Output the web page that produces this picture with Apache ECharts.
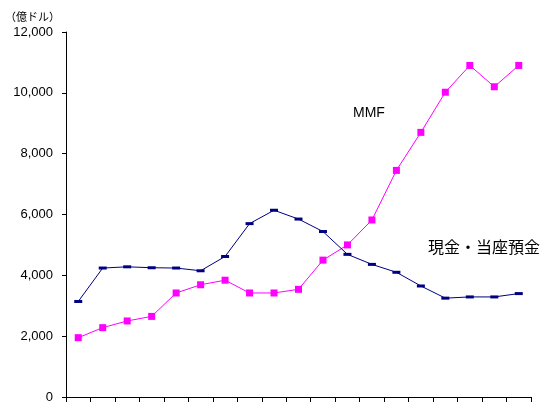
<!DOCTYPE html>
<html>
<head>
<meta charset="utf-8">
<script src="https://cdn.jsdelivr.net/npm/echarts@6/dist/echarts.min.js"></script>
<style>
  html, body { margin: 0; padding: 0; background: #fff; }
  #chart { width: 540px; height: 408px; }
</style>
</head>
<body>
<div id="chart"></div>
<script>
// 19 periods, no labels on the x axis
const categories = ['1', '2', '3', '4', '5', '6', '7', '8', '9', '10',
  '11', '12', '13', '14', '15', '16', '17', '18', '19'];

// 単位：億ドル
const mmfValues = [1950, 2280, 2500, 2650, 3420, 3690, 3840, 3420, 3420, 3540,
  4500, 5000, 5820, 7450, 8700, 10020, 10900, 10200, 10900];
const cashValues = [3140, 4240, 4280, 4250, 4240, 4150, 4620, 5700, 6140, 5850,
  5440, 4690, 4360, 4100, 3650, 3250, 3290, 3290, 3400];

const yTicks = { min: 0, max: 12000, interval: 2000 };

const fontFamily = '"Liberation Sans", Arial, "Noto Sans CJK JP", sans-serif';

const chart = echarts.init(document.getElementById('chart'));

chart.setOption({
  animation: false,
  backgroundColor: '#fff',
  textStyle: { fontFamily: fontFamily },
  grid: { left: 66, right: 9, top: 32, bottom: 11, containLabel: false },
  xAxis: {
    type: 'category',
    data: categories,
    boundaryGap: true,
    axisLine: { lineStyle: { color: '#000', width: 1 } },
    axisTick: { show: true, length: 5, lineStyle: { color: '#000' } },
    axisLabel: { show: false },
    splitLine: { show: false }
  },
  yAxis: {
    type: 'value',
    min: yTicks.min,
    max: yTicks.max,
    interval: yTicks.interval,
    axisLine: { show: true, lineStyle: { color: '#000', width: 1 } },
    axisTick: { show: true, length: 4, lineStyle: { color: '#000' } },
    axisLabel: {
      color: '#000',
      fontSize: 13,
      margin: 13,
      formatter: (v) => v.toLocaleString('en-US')
    },
    splitLine: { show: false }
  },
  series: [
    {
      name: 'MMF',
      type: 'line',
      data: mmfValues,
      symbol: 'rect',
      symbolSize: 7,
      lineStyle: { color: '#FF00FF', width: 1 },
      itemStyle: { color: '#FF00FF' }
    },
    {
      name: '現金・当座預金',
      type: 'line',
      data: cashValues,
      symbol: 'rect',
      symbolSize: [8, 3],
      lineStyle: { color: '#000080', width: 1 },
      itemStyle: { color: '#000080' }
    }
  ],
  graphic: [
    {
      type: 'text',
      left: 5,
      top: 12,
      style: { text: '（億ドル）', fontSize: 11, fill: '#000', fontFamily: fontFamily }
    },
    {
      type: 'text',
      left: 353,
      top: 106,
      style: { text: 'MMF', fontSize: 14, fill: '#000', fontFamily: fontFamily }
    },
    {
      type: 'text',
      left: 428,
      top: 241,
      style: { text: '現金・当座預金', fontSize: 16, fill: '#000', fontFamily: fontFamily }
    }
  ]
});
</script>
</body>
</html>
